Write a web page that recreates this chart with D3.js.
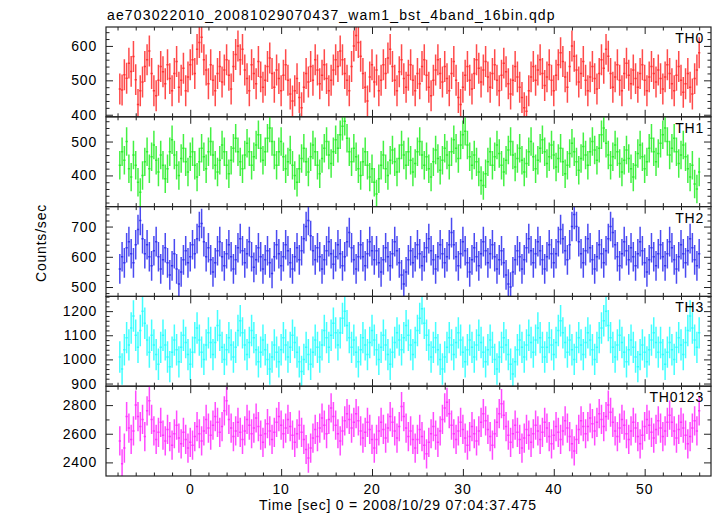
<!DOCTYPE html>
<html><head><meta charset="utf-8">
<script src="https://cdn.jsdelivr.net/npm/d3@7"></script>
<style>
html,body{margin:0;padding:0;background:#fff;}
text{font-family:"Liberation Sans",Arial,Helvetica,sans-serif;font-size:14px;letter-spacing:0.8px;fill:#000;}
</style></head>
<body>
<svg id="c" width="717" height="516"></svg>
<script>
const title = "ae703022010_20081029070437_wam1_bst_4band_16bin.qdp";
const xLabel = "Time [sec] 0 = 2008/10/29 07:04:37.475";
const yLabel = "Counts/sec";
const panelNames = ["TH0","TH1","TH2","TH3","TH0123"];
const panelColors = ["#ff2a2a","#22ee22","#2a2aee","#22ffff","#ff2aff"];
const binStart = -7.875, binWidth = 0.25;
const xTicksMajor = [0,10,20,30,40,50];
const yDomains = [[394,655],[308,573],[469,766],[889,1261],[2305,2932]];
const yTicksMajor = [[400,500,600],[400,500],[500,600,700],[900,1000,1100,1200],[2400,2600,2800]];
const yMinorStep = [20,20,20,20,100];
const errHalf = [45,42,49,65,102];

const th0 = [
475,472,516,506,550,526,569,502,430,470,495,540,560,585,520,470,
455,500,540,525,490,545,505,470,520,555,480,500,535,470,510,545,
560,520,590,610,625,560,530,490,545,500,470,520,540,495,530,560,
515,475,540,575,600,560,590,530,505,470,545,520,490,555,510,480,
500,540,565,520,480,530,505,470,515,545,500,460,440,470,505,450,
420,480,520,495,540,500,560,530,490,515,545,505,470,500,530,560,
540,585,560,520,500,470,540,600,630,610,570,520,480,440,510,545,
495,530,470,500,545,520,565,590,540,500,470,525,560,505,480,515,
545,500,470,520,490,540,560,515,480,455,500,530,560,520,495,540,
505,470,520,555,500,450,430,480,515,540,500,475,520,560,535,495,
530,555,510,480,520,545,500,470,515,550,525,490,460,500,540,510,
480,450,420,410,470,510,540,500,530,560,520,485,510,545,500,470,
515,545,580,555,510,480,540,600,570,530,495,520,555,500,470,510,
540,505,475,520,560,535,590,570,520,480,510,545,500,470,520,550,
515,490,530,505,480,520,545,500,470,510,540,520,495,530,505,475,
510,545,520,490,470,515,540,500,465,490,520,480,460,505,530,580];
const th1 = [
430,470,445,500,420,395,460,430,380,350,400,440,470,420,455,490,
445,410,460,430,390,420,470,505,460,430,400,450,480,440,410,455,
470,430,395,440,480,455,420,470,500,460,430,410,445,490,470,430,
405,445,480,510,470,440,420,460,495,470,430,455,490,520,480,445,
470,510,540,500,460,430,470,500,455,420,440,475,430,400,380,420,
450,480,440,410,455,490,470,430,405,450,480,500,460,435,470,505,
480,520,545,560,510,470,440,480,455,420,400,440,470,430,395,420,
380,345,390,430,460,420,400,445,475,440,410,450,490,460,430,470,
445,410,435,470,500,460,430,455,420,395,440,475,450,415,445,480,
460,430,470,505,480,450,490,520,530,490,455,430,460,440,410,385,
370,405,440,470,430,455,490,465,430,410,445,475,500,460,425,450,
480,445,410,435,470,500,455,420,445,480,505,470,435,455,490,460,
425,450,480,440,405,430,465,495,470,440,415,450,485,460,430,470,
500,475,445,480,520,540,495,460,430,455,490,470,435,410,445,475,
450,420,395,430,465,490,455,420,440,480,510,470,440,465,495,520,
540,500,460,480,510,470,435,460,490,455,420,395,430,375,360,410];
const th2 = [
560,600,580,630,650,610,580,640,690,720,660,610,640,600,570,620,
650,600,560,590,630,580,540,570,610,560,510,550,590,620,580,600,
640,610,660,700,710,650,600,630,590,550,580,620,650,600,570,610,
640,600,560,590,630,660,620,580,610,650,600,565,590,630,600,560,
590,620,580,545,600,640,610,570,600,640,620,580,560,600,630,590,
620,660,700,720,670,620,590,630,600,560,590,620,650,610,575,600,
640,610,570,600,650,680,630,590,560,600,640,600,570,610,650,620,
590,620,580,550,590,630,600,570,610,650,620,580,540,510,550,590,
620,580,600,640,610,570,600,630,660,620,590,560,600,640,610,580,
600,640,680,640,600,570,610,650,620,580,550,590,630,600,570,610,
650,620,580,610,640,600,560,590,620,580,540,510,500,550,590,620,
600,560,590,630,660,620,580,610,650,620,590,560,600,640,610,580,
610,650,690,660,620,590,640,700,740,700,650,610,580,620,660,630,
590,560,600,640,610,580,620,660,700,680,640,600,570,610,650,620,
590,630,600,570,610,650,620,580,550,590,630,600,570,610,640,600,
570,610,650,630,590,560,600,640,610,580,620,660,630,590,570,610];
const th3 = [
1010,960,1040,1090,1060,1130,1180,1100,1050,1120,1200,1150,1080,1030,1100,1060,
1020,980,1050,1100,1060,1010,970,1030,1080,1040,990,1050,1100,1070,1020,980,
1030,1090,1130,1080,1030,1000,1060,1110,1070,1020,1070,1140,1100,1050,1000,1040,
1090,1060,1010,1050,1120,1160,1110,1060,1020,1070,1120,1090,1040,990,1030,1080,
1040,1000,960,1010,1060,1030,990,1040,1090,1060,1010,1050,1100,1070,1030,990,
950,1000,1050,1020,980,1030,1080,1050,1010,1060,1120,1090,1050,1100,1150,1110,
1060,1110,1170,1200,1140,1090,1050,1080,1030,990,1040,1090,1060,1020,1070,1120,
1080,1040,1000,1050,1100,1060,1020,980,1030,1070,1110,1080,1040,1090,1140,1100,
1060,1020,1070,1120,1170,1210,1150,1100,1060,1010,1050,1090,1040,1000,960,1010,
1050,1090,1060,1020,1070,1110,1080,1030,990,1040,1080,1050,1010,1060,1100,1070,
1030,990,1040,1080,1050,1000,960,1010,1050,1090,1060,1020,980,940,990,1040,
1080,1050,1010,1060,1100,1070,1030,1080,1130,1090,1050,1010,1050,1090,1060,1020,
1070,1120,1160,1110,1070,1030,1080,1040,1000,1050,1090,1060,1020,1070,1110,1080,
1040,1000,1050,1090,1130,1160,1200,1140,1090,1050,1010,1060,1100,1070,1030,990,
1040,1080,1050,1010,970,1020,1060,1030,990,1040,1080,1110,1070,1030,1070,1020,
980,1030,1070,1040,1000,1050,1090,1060,1020,1070,1120,1180,1130,1080,1050,1110];
const th0123 = [
2550,2390,2500,2720,2640,2560,2620,2800,2720,2650,2700,2580,2760,2830,2700,2620,
2560,2610,2680,2590,2550,2630,2580,2520,2600,2660,2570,2530,2610,2560,2500,2540,
2520,2580,2650,2600,2550,2620,2700,2640,2590,2660,2720,2680,2610,2650,2760,2830,
2700,2640,2580,2620,2680,2610,2560,2620,2700,2660,2600,2640,2710,2650,2590,2540,
2600,2670,2620,2560,2610,2680,2720,2660,2600,2640,2700,2650,2590,2540,2600,2660,
2610,2560,2490,2430,2500,2570,2630,2580,2640,2710,2660,2600,2700,2780,2720,2660,
2600,2550,2620,2690,2740,2700,2640,2680,2740,2690,2620,2570,2610,2680,2630,2560,
2500,2560,2620,2680,2630,2570,2640,2720,2680,2620,2570,2650,2790,2720,2640,2580,
2620,2560,2500,2560,2630,2580,2520,2460,2540,2600,2650,2590,2540,2620,2700,2780,
2820,2740,2660,2600,2560,2620,2680,2630,2570,2520,2580,2650,2600,2550,2620,2680,
2740,2690,2630,2580,2520,2600,2680,2740,2810,2730,2650,2590,2540,2600,2660,2610,
2560,2500,2570,2630,2590,2540,2600,2660,2620,2560,2610,2680,2640,2580,2530,2590,
2650,2610,2560,2620,2690,2640,2580,2530,2480,2560,2630,2690,2650,2600,2650,2710,
2670,2620,2680,2740,2700,2650,2720,2800,2750,2680,2620,2580,2640,2700,2660,2600,
2560,2620,2680,2640,2580,2530,2590,2650,2700,2660,2610,2570,2630,2690,2640,2580,
2620,2680,2730,2680,2620,2570,2630,2680,2640,2590,2530,2580,2640,2690,2620,2760];
const series = [th0, th1, th2, th3, th0123];

const svg = d3.select("#c");
const L = 106, R = 711, T = 27, B = 476;
const ph = (B - T) / 5;
const x = d3.scaleLinear().domain([-9.27, 57.3]).range([L, R]);
const xMinor = d3.range(-8, 57, 2).filter(v => v % 10 !== 0);

svg.append("text").attr("x", 107).attr("y", 20).style("letter-spacing", "1.15px").text(title);

series.forEach((vals, i) => {
  const top = T + i * ph, bot = T + (i + 1) * ph;
  const y = d3.scaleLinear().domain(yDomains[i]).range([bot, top]);
  const g = svg.append("g");
  const clipId = "clip" + i;
  svg.append("clipPath").attr("id", clipId).append("rect")
    .attr("x", L).attr("y", top).attr("width", R - L).attr("height", bot - top);
  const dg = g.append("g").attr("clip-path", `url(#${clipId})`)
    .attr("stroke", panelColors[i]).attr("stroke-width", 1.5)
    .attr("stroke-opacity", 0.85).attr("fill", "none");
  const pts = vals.map((v, k) => ({t: binStart + binWidth * (k + 0.5), v}));
  dg.selectAll("line.h").data(pts).join("line").attr("class", "h")
    .attr("x1", d => x(d.t - binWidth / 2)).attr("x2", d => x(d.t + binWidth / 2))
    .attr("y1", d => y(d.v)).attr("y2", d => y(d.v));
  dg.selectAll("line.v").data(pts).join("line").attr("class", "v")
    .attr("x1", d => x(d.t)).attr("x2", d => x(d.t))
    .attr("y1", d => y(d.v - errHalf[i])).attr("y2", d => y(d.v + errHalf[i]));

  const [d0, d1] = yDomains[i];
  const minor = d3.range(Math.ceil(d0 / yMinorStep[i]) * yMinorStep[i], d1, yMinorStep[i])
    .filter(v => !yTicksMajor[i].includes(v));
  const axL = d3.axisRight(y).tickValues(yTicksMajor[i]).tickSize(7).tickFormat("");
  const axLm = d3.axisRight(y).tickValues(minor).tickSize(3.5).tickFormat("");
  const axR = d3.axisLeft(y).tickValues(yTicksMajor[i]).tickSize(7).tickFormat("");
  const axRm = d3.axisLeft(y).tickValues(minor).tickSize(3.5).tickFormat("");
  [[axL, L], [axLm, L], [axR, R], [axRm, R]].forEach(([ax, px]) => {
    const a = g.append("g").attr("transform", `translate(${px},0)`).call(ax);
    a.select(".domain").remove();
    a.selectAll("line").attr("stroke", "#222");
  });
  const axB = d3.axisTop(x).tickValues(xTicksMajor).tickSize(7).tickFormat("");
  const axBm = d3.axisTop(x).tickValues(xMinor).tickSize(3.5).tickFormat("");
  const axT = d3.axisBottom(x).tickValues(xTicksMajor).tickSize(7).tickFormat("");
  const axTm = d3.axisBottom(x).tickValues(xMinor).tickSize(3.5).tickFormat("");
  [[axB, bot], [axBm, bot], [axT, top], [axTm, top]].forEach(([ax, py]) => {
    const a = g.append("g").attr("transform", `translate(0,${py})`).call(ax);
    a.select(".domain").remove();
    a.selectAll("line").attr("stroke", "#222");
  });
  g.selectAll("text.yl").data(yTicksMajor[i]).join("text").attr("class", "yl")
    .attr("x", 97).attr("y", d => y(d)).attr("dy", "0.36em")
    .attr("text-anchor", "end").text(d => d);
  g.append("rect").attr("x", L).attr("y", top).attr("width", R - L).attr("height", bot - top)
    .attr("fill", "none").attr("stroke", "#222").attr("stroke-width", 1.2);
  g.append("text").attr("x", 704).attr("y", top + 16).attr("text-anchor", "end")
    .text(panelNames[i]);
});

svg.selectAll("text.xl").data(xTicksMajor).join("text").attr("class", "xl")
  .attr("x", d => x(d)).attr("y", 493.5).attr("text-anchor", "middle").text(d => d);
svg.append("text").attr("x", 398).attr("y", 510).attr("text-anchor", "middle").text(xLabel);
svg.append("text").attr("transform", "translate(45.5,243) rotate(-90)")
  .attr("text-anchor", "middle").text(yLabel);
</script>
</body></html>
